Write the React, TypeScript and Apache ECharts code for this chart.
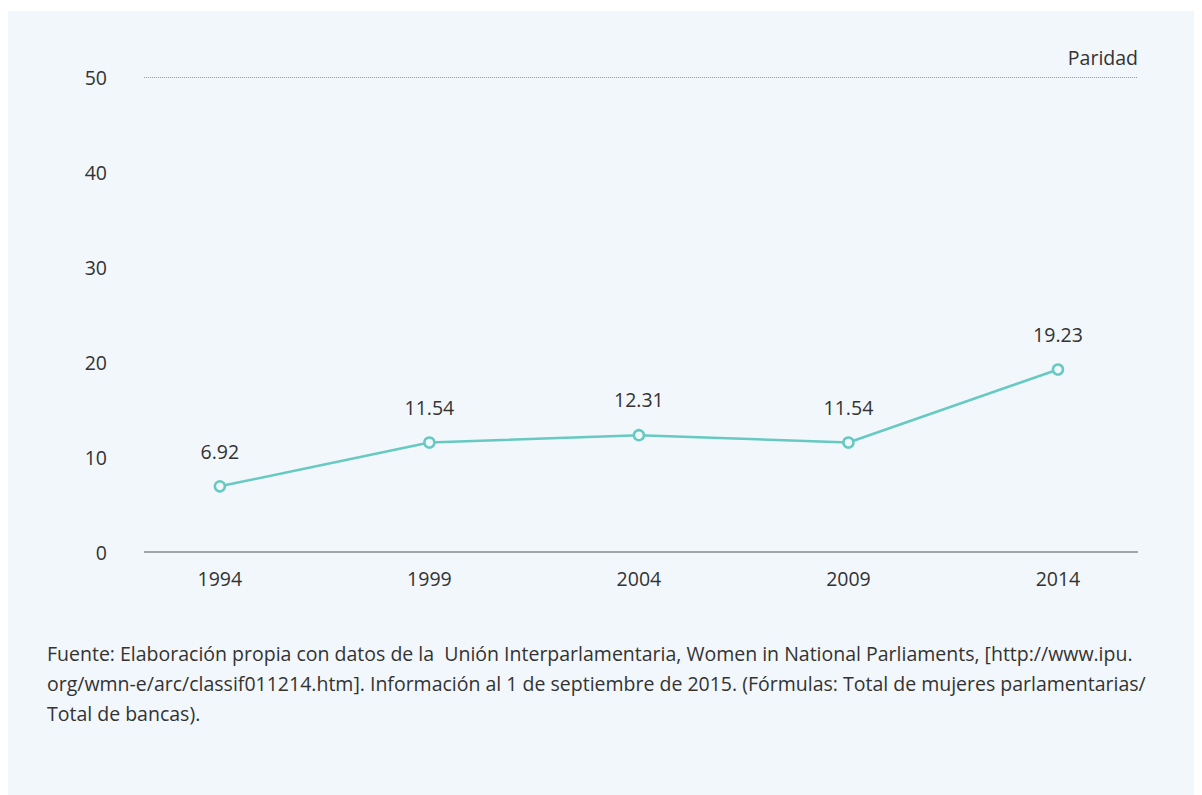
import React, { useEffect, useRef } from "react";
import * as echarts from "echarts";

const years = [1994, 1999, 2004, 2009, 2014];
const values = [6.92, 11.54, 12.31, 11.54, 19.23];
const yTicks = [0, 10, 20, 30, 40, 50];
const parityValue = 50;
const parityLabel = "Paridad";
const sourceLines = [
  "Fuente: Elaboración propia con datos de la  Unión Interparlamentaria, Women in National Parliaments, [http://www.ipu.",
  "org/wmn-e/arc/classif011214.htm]. Información al 1 de septiembre de 2015. (Fórmulas: Total de mujeres parlamentarias/",
  "Total de bancas).",
];

const BG = "#f2f7fb";
const TEAL = "#66c9c2";
const TEXT = "#333333";
const FONT = "'Open Sans', 'Noto Sans', sans-serif";

export default function App() {
  const ref = useRef<HTMLDivElement>(null);

  useEffect(() => {
    document.documentElement.style.overflow = "hidden";
    if (!ref.current) return;
    const chart = echarts.init(ref.current, null, { renderer: "svg" });
    chart.setOption({
      animation: false,
      backgroundColor: BG,
      textStyle: { fontFamily: FONT },
      grid: { left: 136, right: 56, top: 66.5, bottom: 244, containLabel: false },
      xAxis: {
        type: "value",
        min: 1992.19,
        max: 2015.91,
        axisLine: { show: false },
        axisTick: { show: false },
        splitLine: { show: false },
        axisLabel: {
          customValues: years,
          formatter: (v: number) => String(v),
          color: TEXT,
          fontSize: 19.5,
          fontFamily: FONT,
          margin: 16,
        },
      },
      yAxis: {
        type: "value",
        min: 0,
        max: 50,
        interval: 10,
        axisLine: { show: false },
        axisTick: { show: false },
        splitLine: { show: false },
        axisLabel: {
          customValues: yTicks,
          color: TEXT,
          fontSize: 19.5,
          fontFamily: FONT,
          margin: 37,
        },
      },
      series: [
        {
          type: "line",
          data: years.map((y, i) => [y, values[i]]),
          symbol: "circle",
          symbolSize: 10,
          lineStyle: { color: TEAL, width: 2.5 },
          itemStyle: { color: BG, borderColor: TEAL, borderWidth: 2.5 },
          label: {
            show: true,
            position: "top",
            distance: 19,
            color: TEXT,
            fontSize: 19.5,
            fontFamily: FONT,
            formatter: (p: any) => values[p.dataIndex].toFixed(2),
          },
          markLine: {
            silent: true,
            symbol: "none",
            lineStyle: { type: "dotted", color: "#9a9a9a", width: 1 },
            label: {
              show: true,
              position: "insideEndTop",
              formatter: parityLabel,
              color: TEXT,
              fontSize: 19.5,
              fontFamily: FONT,
              distance: [0, 10],
            },
            data: [{ yAxis: parityValue }],
          },
        },
        {
          type: "line",
          data: [],
          markLine: {
            silent: true,
            symbol: "none",
            lineStyle: { type: "solid", color: "#8a8a8e", width: 1.5 },
            label: { show: false },
            data: [{ yAxis: 0 }],
          },
        },
      ],
      graphic: [
        {
          type: "text",
          left: 39,
          top: 627,
          style: {
            text: sourceLines.join("\n"),
            fill: TEXT,
            fontSize: 19.5,
            fontFamily: FONT,
            lineHeight: 30,
          },
        },
      ],
    });
    return () => chart.dispose();
  }, []);

  return (
    <div
      ref={ref}
      style={{ width: 1186, height: 785, marginTop: 3, background: BG }}
    />
  );
}
